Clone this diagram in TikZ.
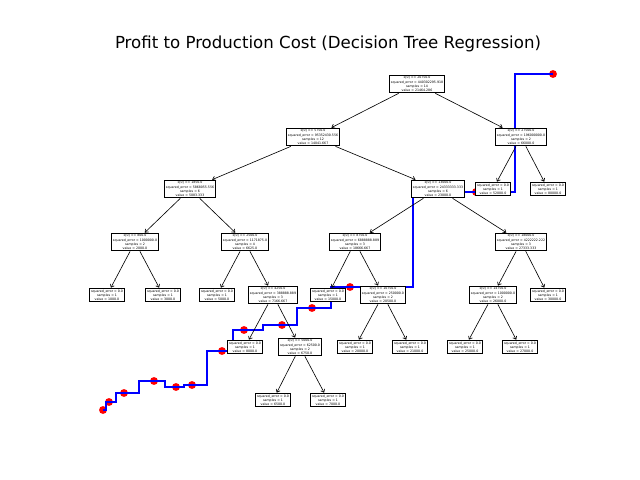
\documentclass[tikz,border=0pt]{standalone}
\usepackage{fontspec}
\setmainfont{DejaVu Sans}
\usetikzlibrary{arrows.meta}

\tikzset{split/.style = {draw, line width=0.75pt, fill=white, align=center,
                         inner sep=1pt, font=\fontsize{2.3}{3}\selectfont},
         leaf/.style = {split},
         edge/.style = {-{Straight Barb[length=0.7mm,width=1.1mm]}, line width=0.45pt},
         regline/.style = {blue, line width=1.3pt},
         datapt/.style = {red}
        }
\newcommand{\sq}{squared\_error}

\begin{document}
\begin{tikzpicture}[x=0.254mm, y=-0.254mm]
  \useasboundingbox (0,0) rectangle (640,480);
  \node[font=\fontsize{12}{14}\selectfont] (title) at (328,44)
       {Profit to Production Cost (Decision Tree Regression)};

  % data points and prediction
  \foreach \p in {(103,410),(109,402),(124,393),(154,381),(176,387),(192,385),
                  (222,351),(244,330),(282,325),(312,308),(350,287),(476,192),(553,74)}
    \fill[datapt] \p circle[radius=1mm];
  \draw[regline] (103,410) -| (106,402) -| (116,393) -| (139,381) -| (165,387)
       -| (184,385) -| (207,351) -| (233,330) -| (263,325) -| (297,308)
       -| (331,287) -| (413,192) -| (515,74) -- (553,74);

  % the tree
  \node[split] (root) at (417,84) {x[0] <= 20750.0\\\sq{} = 440302295.918\\samples = 14\\value = 21464.286};
  \node[split] (a) at (313,137) {x[0] <= 5750.0\\\sq{} = 95352430.556\\samples = 12\\value = 14041.667};
  \node[split] (b) at (521,137) {x[0] <= 27500.0\\\sq{} = 196000000.0\\samples = 2\\value = 66000.0};
  \node[split] (c) at (190,189) {x[0] <= 1850.0\\\sq{} = 5868055.556\\samples = 6\\value = 5083.333};
  \node[split] (d) at (438,189) {x[0] <= 13000.0\\\sq{} = 24333333.333\\samples = 6\\value = 23000.0};
  \node[leaf] (e) at (493,189) {\sq{} = 0.0\\samples = 1\\value = 52000.0};
  \node[leaf] (f) at (548,189) {\sq{} = 0.0\\samples = 1\\value = 80000.0};
  \node[split] (g) at (135,242) {x[0] <= 800.0\\\sq{} = 1000000.0\\samples = 2\\value = 2000.0};
  \node[split] (h) at (245,242) {x[0] <= 2500.0\\\sq{} = 1171875.0\\samples = 4\\value = 6625.0};
  \node[split] (i) at (355,242) {x[0] <= 8750.0\\\sq{} = 6888888.889\\samples = 3\\value = 18666.667};
  \node[split] (j) at (521,242) {x[0] <= 18000.0\\\sq{} = 4222222.222\\samples = 3\\value = 27333.333};
  \node[leaf] (g1) at (107,295) {\sq{} = 0.0\\samples = 1\\value = 1000.0};
  \node[leaf] (g2) at (163,295) {\sq{} = 0.0\\samples = 1\\value = 3000.0};
  \node[leaf] (h1) at (217,295) {\sq{} = 0.0\\samples = 1\\value = 5000.0};
  \node[split] (k) at (273,295) {x[0] <= 4250.0\\\sq{} = 388888.889\\samples = 3\\value = 7166.667};
  \node[leaf] (i1) at (328,295) {\sq{} = 0.0\\samples = 1\\value = 15000.0};
  \node[split] (l) at (383,295) {x[0] <= 10750.0\\\sq{} = 250000.0\\samples = 2\\value = 20500.0};
  \node[split] (m) at (493,295) {x[0] <= 14750.0\\\sq{} = 1000000.0\\samples = 2\\value = 26000.0};
  \node[leaf] (j2) at (548,295) {\sq{} = 0.0\\samples = 1\\value = 30000.0};
  \node[leaf] (k1) at (245,347) {\sq{} = 0.0\\samples = 1\\value = 8000.0};
  \node[split] (n) at (300,347) {x[0] <= 5000.0\\\sq{} = 62500.0\\samples = 2\\value = 6750.0};
  \node[leaf] (l1) at (355,347) {\sq{} = 0.0\\samples = 1\\value = 20000.0};
  \node[leaf] (l2) at (410,347) {\sq{} = 0.0\\samples = 1\\value = 21000.0};
  \node[leaf] (m1) at (465,347) {\sq{} = 0.0\\samples = 1\\value = 25000.0};
  \node[leaf] (m2) at (520,347) {\sq{} = 0.0\\samples = 1\\value = 27000.0};
  \node[leaf] (n1) at (273,400) {\sq{} = 0.0\\samples = 1\\value = 6500.0};
  \node[leaf] (n2) at (328,400) {\sq{} = 0.0\\samples = 1\\value = 7000.0};

  \foreach \u/\v in {root/a, root/b, a/c, a/d, b/e, b/f, c/g, c/h, d/i, d/j,
                     g/g1, g/g2, h/h1, h/k, i/i1, i/l, j/m, j/j2,
                     k/k1, k/n, l/l1, l/l2, m/m1, m/m2, n/n1, n/n2}
    \draw[edge] (\u) -- (\v);
\end{tikzpicture}
\end{document}
